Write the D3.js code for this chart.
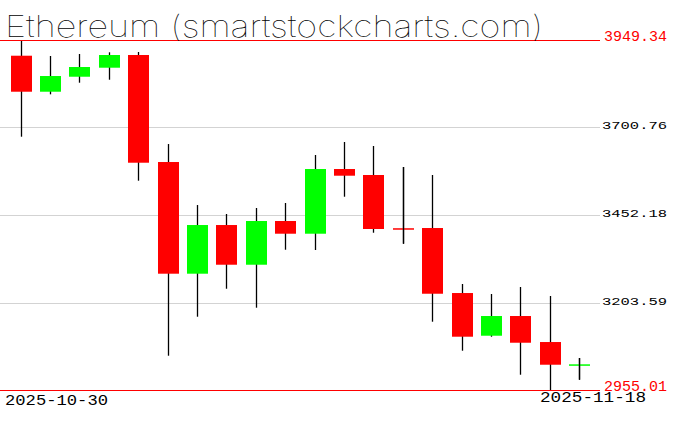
<!DOCTYPE html>
<html>
<head lang="en">
    <meta charset="UTF-8">
    <title>Ethereum candles</title>
    <script src="https://cdn.jsdelivr.net/npm/d3@7/dist/d3.min.js"></script>
    <style>
        body { margin: 0; background: #fff; }
        svg { display: block; }
        .title { font: 100 30px Inter, sans-serif; fill: #000; }
        .lbl { font-family: "Liberation Mono", monospace; }
    </style>
</head>
<body>
<script>

    var dates = ["2025-10-30", "2025-10-31", "2025-11-01", "2025-11-02", "2025-11-03",
        "2025-11-04", "2025-11-05", "2025-11-06", "2025-11-07", "2025-11-08",
        "2025-11-09", "2025-11-10", "2025-11-11", "2025-11-12", "2025-11-13",
        "2025-11-14", "2025-11-15", "2025-11-16", "2025-11-17", "2025-11-18"];

    var open  = [3904.7, 3802.4, 3845.0, 3870.6, 3906.7, 3602.7, 3285.4, 3423.7, 3310.9, 3435.1,
                 3399.0, 3582.8, 3565.8, 3414.6, 3415.2, 3230.5, 3109.2, 3165.2, 3091.3, 3027.5];
    var high  = [3949.34, 3903.9, 3909.5, 3914.4, 3915.2, 3653.8, 3480.5, 3455.0, 3472.0, 3486.2,
                 3622.6, 3659.5, 3648.2, 3588.5, 3565.8, 3256.1, 3227.7, 3247.6, 3222.0, 3045.9];
    var low   = [3674.6, 3795.0, 3828.0, 3836.5, 3549.6, 3052.4, 3163.2, 3242.7, 3188.8, 3353.5,
                 3352.7, 3504.1, 3401.8, 3370.6, 3149.0, 3066.6, 3106.4, 2998.4, 2955.01, 2984.2];
    var close = [3802.4, 3847.0, 3872.6, 3906.7, 3600.7, 3285.4, 3423.7, 3310.9, 3435.1, 3399.0,
                 3582.8, 3563.8, 3412.4, 3414.0, 3228.5, 3106.4, 3165.2, 3089.3, 3026.8, 3028.0];

    var gridTicks = [3700.76, 3452.18, 3203.59];
    var maxVal = 3949.34, minVal = 2955.01;

    var width = 676, height = 431;

    var svg = d3.select("body").append("svg")
            .attr("width", width)
            .attr("height", height);

    var y = d3.scaleLinear().domain([minVal, maxVal]).range([390, 40]);
    var x = d3.scalePoint().domain(dates).range([20.5, 579.1]);
    var bodyW = 21;

    // grid lines
    svg.selectAll("line.grid")
            .data(gridTicks)
            .enter().append("line")
            .attr("class", "grid")
            .attr("x1", 0).attr("x2", 600)
            .attr("y1", function(d) { return Math.round(y(d)) + 0.5; })
            .attr("y2", function(d) { return Math.round(y(d)) + 0.5; })
            .attr("stroke", "#d3d3d3");

    svg.selectAll("text.tick")
            .data(gridTicks)
            .enter().append("text")
            .attr("class", "lbl tick")
            .attr("x", 602)
            .attr("y", function(d) { return Math.round(y(d)) + 1.5; })
            .attr("font-size", 10.5)
            .attr("textLength", 65)
            .attr("lengthAdjust", "spacingAndGlyphs")
            .text(function(d) { return d.toFixed(2); });

    var data = dates.map(function(d, i) {
        return {date: d, o: open[i], h: high[i], l: low[i], c: close[i]};
    });

    // wicks
    svg.selectAll("line.wick")
            .data(data)
            .enter().append("line")
            .attr("class", "wick")
            .attr("x1", function(d) { return Math.round(x(d.date)) + 0.5; })
            .attr("x2", function(d) { return Math.round(x(d.date)) + 0.5; })
            .attr("y1", function(d) { return y(d.h); })
            .attr("y2", function(d) { return y(d.l); })
            .attr("stroke", "#000")
            .attr("stroke-width", 1.3);

    // bodies
    svg.selectAll("rect.body")
            .data(data)
            .enter().append("rect")
            .attr("class", "body")
            .attr("x", function(d) { return Math.round(x(d.date)) + 0.5 - bodyW / 2; })
            .attr("width", bodyW)
            .attr("y", function(d) { return y(Math.max(d.o, d.c)); })
            .attr("height", function(d) { return Math.max(1.5, Math.abs(y(d.o) - y(d.c))); })
            .attr("fill", function(d) { return d.c >= d.o ? "#00ff00" : "#ff0000"; });

    // doji wick over the thin body
    svg.selectAll("line.doji")
            .data(data.filter(function(d) { return Math.abs(y(d.o) - y(d.c)) < 2; }))
            .enter().append("line")
            .attr("class", "doji")
            .attr("x1", function(d) { return Math.round(x(d.date)) + 0.5; })
            .attr("x2", function(d) { return Math.round(x(d.date)) + 0.5; })
            .attr("y1", function(d) { return y(d.h); })
            .attr("y2", function(d) { return y(d.l); })
            .attr("stroke", "#000")
            .attr("stroke-width", 1.3);

    // max / min lines
    var ext = [maxVal, minVal];
    svg.selectAll("line.ext")
            .data(ext)
            .enter().append("line")
            .attr("class", "ext")
            .attr("x1", 0).attr("x2", 600)
            .attr("y1", function(d) { return y(d) + 0.5; })
            .attr("y2", function(d) { return y(d) + 0.5; })
            .attr("stroke", "#ff0000");

    svg.selectAll("text.ext")
            .data(ext)
            .enter().append("text")
            .attr("class", "lbl ext")
            .attr("x", 604)
            .attr("y", function(d) { return y(d) + 1; })
            .attr("font-size", 14.5)
            .attr("textLength", 63)
            .attr("lengthAdjust", "spacingAndGlyphs")
            .attr("fill", "#ff0000")
            .text(function(d) { return d.toFixed(2); });

    // date labels
    svg.append("text")
            .attr("class", "lbl")
            .attr("x", 5).attr("y", 405)
            .attr("font-size", 15)
            .attr("textLength", 103)
            .attr("lengthAdjust", "spacingAndGlyphs")
            .text(dates[0]);

    svg.append("text")
            .attr("class", "lbl")
            .attr("x", 646).attr("y", 402)
            .attr("text-anchor", "end")
            .attr("font-size", 15)
            .attr("textLength", 106)
            .attr("lengthAdjust", "spacingAndGlyphs")
            .text(dates[dates.length - 1]);

    // title
    svg.append("text")
            .attr("class", "title")
            .attr("x", 5).attr("y", 37)
            .attr("textLength", 538)
            .attr("lengthAdjust", "spacingAndGlyphs")
            .text("Ethereum (smartstockcharts.com)");
</script>
</body>
</html>
